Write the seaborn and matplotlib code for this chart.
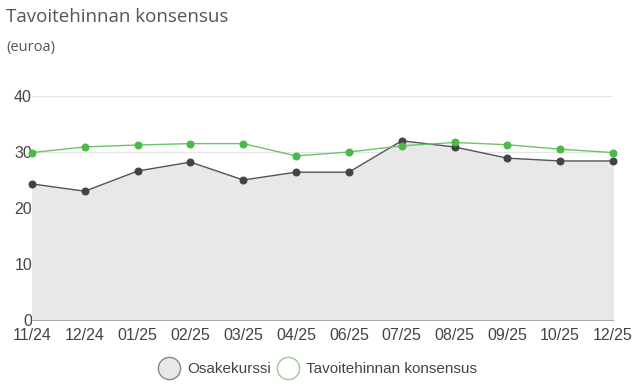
import matplotlib
matplotlib.use("Agg")
import matplotlib.pyplot as plt
import seaborn as sns
import pandas as pd
from matplotlib.lines import Line2D

# Chart data
months = ["11/24", "12/24", "01/25", "02/25", "03/25", "04/25",
          "06/25", "07/25", "08/25", "09/25", "10/25", "12/25"]
sharePrice = [24.3, 23.0, 26.6, 28.2, 25.0, 26.4, 26.4, 32.0, 30.9, 28.9, 28.4, 28.4]
consensus = [29.9, 30.9, 31.25, 31.5, 31.5, 29.3, 30.0, 31.1, 31.7, 31.3, 30.5, 29.9]
yTicks = [0, 10, 20, 30, 40]

sns.set_style("white")
plt.rcParams['font.family'] = ['Liberation Sans', 'DejaVu Sans']

df = pd.DataFrame({"pos": range(len(months)), "month": months,
                   "Osakekurssi": sharePrice, "Tavoitehinnan konsensus": consensus})

fig = plt.figure(figsize=(6.38, 3.88), dpi=100)
ax = fig.add_axes([32/638, 1 - 320/388, (613 - 32)/638, (320 - 96)/388])

# Area under the share price
ax.fill_between(df["pos"], df["Osakekurssi"], 0, color="#e8e8e8", zorder=1)

sns.lineplot(data=df, x="pos", y="Osakekurssi", ax=ax, color="#555555", linewidth=1,
             marker="o", markersize=5, markerfacecolor="#434343", markeredgecolor="#434343",
             zorder=3, clip_on=False)
sns.lineplot(data=df, x="pos", y="Tavoitehinnan konsensus", ax=ax, color="#6cc46a", linewidth=1,
             marker="o", markersize=5, markerfacecolor="#4cb848", markeredgecolor="#4cb848",
             zorder=4, clip_on=False)

ax.set_xlim(0, len(months) - 1)
ax.set_ylim(0, 40)
ax.set_yticks(yTicks)
ax.set_xticks(df["pos"])
ax.set_xticklabels(months)
ax.set_xlabel("")
ax.set_ylabel("")
ax.grid(axis="y", color="#e6e6e6", linewidth=1, zorder=0)
ax.set_axisbelow(True)
for side in ["top", "left", "right"]:
    ax.spines[side].set_visible(False)
ax.spines["bottom"].set_color("#aaaaaa")
ax.tick_params(axis="both", length=0, labelsize=11.5, colors="#444444")
ax.tick_params(axis="y", pad=0)
ax.tick_params(axis="x", pad=6)

# Title and unit
fig.text(6/638, 1 - 17/388, "Tavoitehinnan konsensus", fontsize=13.5, color="#555555",
         va="center", ha="left", family=["Open Sans", "DejaVu Sans"])
fig.text(6/638, 1 - 47/388, "(euroa)", fontsize=10.5, color="#555555",
         va="center", ha="left", family=["Open Sans", "DejaVu Sans"])

# Legend
handles = [
    Line2D([], [], linestyle="none", marker="o", markersize=16, markerfacecolor="#e8e8e8",
           markeredgecolor="#888888", markeredgewidth=1),
    Line2D([], [], linestyle="none", marker="o", markersize=16, markerfacecolor="white",
           markeredgecolor="#8fd08c", markeredgewidth=1),
]
fig.legend(handles, ["Osakekurssi", "Tavoitehinnan konsensus"], loc="center",
           bbox_to_anchor=(318/638, 1 - 369/388), ncol=2, frameon=False, fontsize=11,
           labelcolor="#444444", handletextpad=0.5, columnspacing=0.5, handlelength=1.3)

fig.savefig("out.png", dpi=100)
